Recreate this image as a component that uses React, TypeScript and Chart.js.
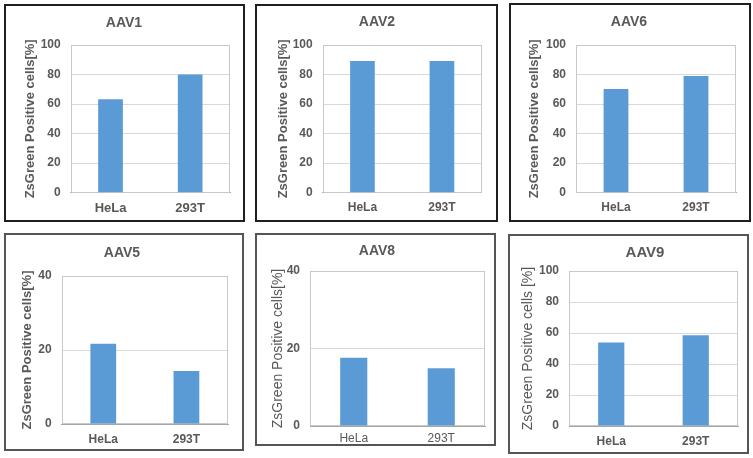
import React, { useEffect, useRef } from "react";
import { Chart, registerables } from "chart.js";

Chart.register(...registerables);

// ---------- data ----------
const categories = ["HeLa", "293T"];
const panelTitles = ["AAV1", "AAV2", "AAV6", "AAV5", "AAV8", "AAV9"];
const aav1Values = [63.2, 80.1];
const aav2Values = [89.2, 89.2];
const aav6Values = [70.2, 79.0];
const aav5Values = [21.7, 14.3];
const aav8Values = [17.6, 14.9];
const aav9Values = [53.8, 58.5];
const panelValues = [aav1Values, aav2Values, aav6Values, aav5Values, aav8Values, aav9Values];
const yAxisMax = [100, 100, 100, 40, 40, 100];
const yAxisStep = [20, 20, 20, 20, 20, 20];
const yAxisTitles = [
  "ZsGreen Positive cells[%]",
  "ZsGreen Positive cells[%]",
  "ZsGreen Positive cells[%]",
  "ZsGreen Positive cells[%]",
  "ZsGreen Positive cells[%]",
  "ZsGreen Positive cells [%]",
];

// ---------- layout (page pixels) ----------
type Layout = {
  x: number; y: number; w: number; h: number;
  plot: [number, number, number, number];
  titleX: number; titleY: number; titleSize: number;
  yTitleX: number; yTitleBold: boolean; yTitleSize: number;
  xTickBold: boolean; xTickSize: number; xTickPad: number;
  frame: string;
};

const layouts: Layout[] = [
  { x: 4, y: 4, w: 241, h: 218, plot: [70.7, 45, 230, 192.7], titleX: 124, titleY: 23, titleSize: 14, yTitleX: 30, yTitleBold: true, yTitleSize: 13, xTickBold: true, xTickSize: 13, xTickPad: 8, frame: "#1f1f1f" },
  { x: 255, y: 4, w: 243, h: 218, plot: [322.7, 45, 481.7, 192.7], titleX: 377, titleY: 22, titleSize: 14, yTitleX: 283, yTitleBold: true, yTitleSize: 13, xTickBold: true, xTickSize: 12, xTickPad: 8, frame: "#1f1f1f" },
  { x: 509, y: 3, w: 242, h: 219, plot: [576, 45, 736, 192.7], titleX: 629, titleY: 22, titleSize: 14, yTitleX: 534, yTitleBold: true, yTitleSize: 13, xTickBold: true, xTickSize: 12, xTickPad: 8, frame: "#1f1f1f" },
  { x: 4, y: 233, w: 240, h: 218, plot: [61.7, 276, 228, 424], titleX: 122, titleY: 253, titleSize: 14, yTitleX: 27.5, yTitleBold: true, yTitleSize: 13, xTickBold: true, xTickSize: 12, xTickPad: 8, frame: "#555555" },
  { x: 255, y: 233, w: 241, h: 213, plot: [310, 271, 485, 426], titleX: 377, titleY: 251, titleSize: 14, yTitleX: 278, yTitleBold: false, yTitleSize: 14, xTickBold: false, xTickSize: 12, xTickPad: 5, frame: "#555555" },
  { x: 508, y: 234, w: 241, h: 220, plot: [569, 271, 738, 426], titleX: 645, titleY: 253, titleSize: 15, yTitleX: 528, yTitleBold: false, yTitleSize: 14, xTickBold: true, xTickSize: 12, xTickPad: 8, frame: "#555555" },
];

const FONT = '"Liberation Sans", Arial, Helvetica, sans-serif';
const TEXT = "#595959";
const BAR = "#5B9BD5";
const BW = 2;

const plotBoxPlugin = {
  id: "plotBox",
  beforeDatasetsDraw(chart: any) {
    const { ctx, chartArea } = chart;
    ctx.save();
    ctx.strokeStyle = "#C8C8C8";
    ctx.lineWidth = 1;
    const l = Math.round(chartArea.left) + 0.5;
    const t = Math.round(chartArea.top) + 0.5;
    const r = Math.round(chartArea.right) - 0.5;
    const b = Math.round(chartArea.bottom) - 0.5;
    ctx.strokeRect(l, t, r - l, b - t);
    ctx.restore();
  },
};

const panelTitlePlugin = {
  id: "panelTitle",
  afterDraw(chart: any, _args: any, opts: any) {
    const ctx = chart.ctx;
    ctx.save();
    ctx.font = `bold ${opts.size}px ${FONT}`;
    ctx.fillStyle = TEXT;
    ctx.textAlign = "center";
    ctx.textBaseline = "middle";
    ctx.fillText(opts.text, opts.x, opts.y);
    ctx.restore();
  },
};

function Panel({ index }: { index: number }) {
  const ref = useRef<HTMLCanvasElement | null>(null);
  const L = layouts[index];
  const cl = L.x + BW;
  const ct = L.y + BW;
  const cw = L.w - 2 * BW;
  const ch = L.h - 2 * BW;

  useEffect(() => {
    if (!ref.current) return;
    const [pl, pt, pr, pb] = L.plot;
    const yTitleLH = L.yTitleSize * 1.2;
    const chart = new Chart(ref.current, {
      type: "bar",
      data: {
        labels: categories,
        datasets: [
          {
            data: panelValues[index],
            backgroundColor: BAR,
            borderWidth: 0,
            categoryPercentage: 1,
            barPercentage: 0.31,
          },
        ],
      },
      options: {
        responsive: false,
        animation: false,
        events: [],
        layout: { padding: { left: 0, top: pt - ct, right: cl + cw - pr, bottom: 0 } },
        plugins: {
          legend: { display: false },
          tooltip: { enabled: false },
          title: { display: false },
          panelTitle: {
            text: panelTitles[index],
            x: L.titleX - cl,
            y: L.titleY - ct,
            size: L.titleSize,
          },
        } as any,
        scales: {
          x: {
            grid: { display: false, drawTicks: false },
            border: { display: true, color: "#A6A6A6", width: 1 },
            ticks: {
              color: TEXT,
              padding: L.xTickPad,
              maxRotation: 0,
              font: { family: FONT, size: L.xTickSize, weight: L.xTickBold ? "bold" : "normal" },
            },
            afterFit: (s: any) => {
              s.height = ct + ch - pb;
            },
          },
          y: {
            min: 0,
            max: yAxisMax[index],
            ticks: {
              stepSize: yAxisStep[index],
              color: TEXT,
              padding: 10,
              font: { family: FONT, size: 12, weight: "bold" },
            },
            grid: { color: "#D9D9D9", drawTicks: false },
            border: { display: false },
            title: {
              display: true,
              text: yAxisTitles[index],
              color: TEXT,
              font: { family: FONT, size: L.yTitleSize, weight: L.yTitleBold ? "bold" : "normal" },
              padding: { top: L.yTitleX - cl - yTitleLH / 2, bottom: 0 },
            },
            afterFit: (s: any) => {
              s.width = pl - cl;
            },
          },
        },
      } as any,
      plugins: [plotBoxPlugin, panelTitlePlugin],
    });
    return () => chart.destroy();
  }, [index]);

  return (
    <div
      style={{
        position: "absolute",
        left: L.x,
        top: L.y,
        width: L.w,
        height: L.h,
        boxSizing: "border-box",
        border: `${BW}px solid ${L.frame}`,
        background: "#ffffff",
      }}
    >
      <canvas ref={ref} width={cw} height={ch} style={{ display: "block", width: cw, height: ch }} />
    </div>
  );
}

export default function App() {
  return (
    <div
      style={{
        position: "fixed",
        left: 0,
        top: 0,
        width: 753,
        height: 458,
        background: "#ffffff",
        overflow: "hidden",
      }}
    >
      {layouts.map((_, i) => (
        <Panel key={i} index={i} />
      ))}
    </div>
  );
}
